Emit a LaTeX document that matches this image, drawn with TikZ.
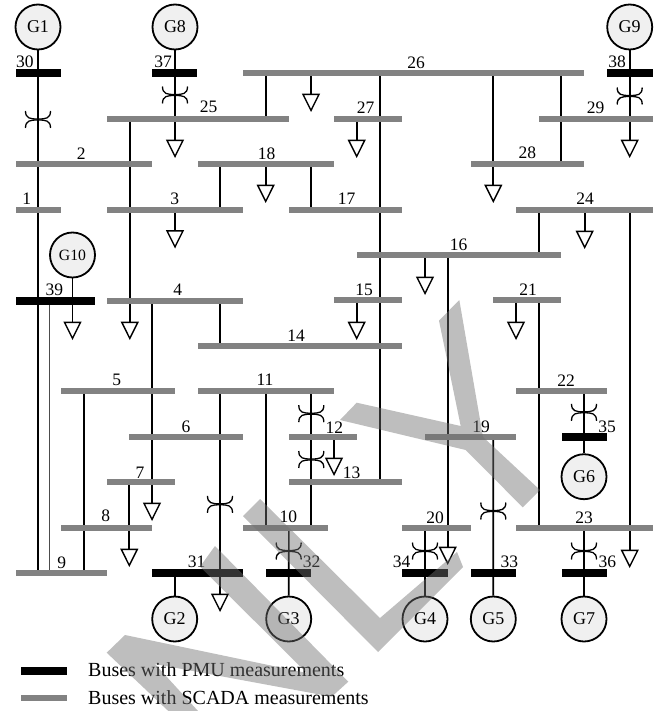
\documentclass[tikz,border=0pt]{standalone}
\usepackage{fontspec}
\setmainfont{Liberation Serif}
\usepackage{tikz}
\usetikzlibrary{
  positioning,
  calc,
  shapes.geometric,
  backgrounds,
}

\begin{document}
\begin{tikzpicture}[
  x=1pt, y=-1pt,
  pmu/.style={fill=black, minimum height=8pt, inner sep=0pt, outer sep=0pt},
  scada/.style={fill=gray!98, minimum height=6pt, inner sep=0pt, outer sep=0pt},
  gen/.style={circle, draw, line width=1.8pt, fill=black!6, minimum size=45pt, inner sep=0pt, font=\fontsize{18}{18}\selectfont},
  gensmall/.style={gen, font=\fontsize{15.7}{16}\selectfont},
  busno/.style={inner sep=0pt, font=\fontsize{17.5}{18}\selectfont},
  legendtext/.style={inner sep=0pt, anchor=west, font=\fontsize{20}{20}\selectfont},
  loadtri/.style={draw, line width=1.4pt, isosceles triangle, isosceles triangle apex angle=53,
    shape border rotate=-90, minimum height=16pt, inner sep=0pt, anchor=apex},
  feeder/.style={line width=1.7pt},
  thinfeeder/.style={line width=1.5pt},
  wmark/.style={fill=black!56, opacity=0.455, draw=none},
  xfmr/.pic={
    \draw[line width=1.3pt] (-12.5,-8.5) .. controls (-12.5,-1) and (-8,-0.5) .. (0,-0.5)
      .. controls (8,-0.5) and (12.5,-1) .. (12.5,-8.5);
    \draw[line width=1.3pt] (-12.5,8.5) .. controls (-12.5,1) and (-8,0.5) .. (0,0.5)
      .. controls (8,0.5) and (12.5,1) .. (12.5,8.5);
  },
]
  \useasboundingbox (0,0) rectangle (657,711);
  % Generators
  \node[gen] (g1) at (38,27) {G1};
  \node[gen] (g8) at (175,27) {G8};
  \node[gen] (g9) at (629.7,27) {G9};
  \node[gensmall] (g10) at (72.5,255) {G10};
  \node[gen] (g6) at (584,476.7) {G6};
  \node[gen] (g2) at (174.7,619) {G2};
  \node[gen] (g3) at (288.7,619) {G3};
  \node[gen] (g4) at (425,619) {G4};
  \node[gen] (g5) at (493.3,619) {G5};
  \node[gen] (g7) at (584,619) {G7};
  % PMU buses
  \node[pmu, minimum width=45pt] (b30) at (38.5,73) {};
  \node[pmu, minimum width=45pt] (b37) at (174.5,73) {};
  \node[pmu, minimum width=46pt] (b38) at (630,73) {};
  \node[pmu, minimum width=79pt] (b39) at (55.5,300.7) {};
  \node[pmu, minimum width=45pt] (b35) at (584.5,437) {};
  \node[pmu, minimum width=91pt] (b31) at (197.5,573.3) {};
  \node[pmu, minimum width=45pt] (b32) at (288.5,573.3) {};
  \node[pmu, minimum width=46pt] (b34) at (425,573.3) {};
  \node[pmu, minimum width=45pt] (b33) at (493.5,573.3) {};
  \node[pmu, minimum width=45pt] (b36) at (584.5,573.3) {};
  % SCADA buses
  \node[scada, minimum width=341pt] (b26) at (413.5,73) {};
  \node[scada, minimum width=182pt] (b25) at (198,118.7) {};
  \node[scada, minimum width=68pt] (b27) at (368,118.7) {};
  \node[scada, minimum width=114pt] (b29) at (596,118.7) {};
  \node[scada, minimum width=136pt] (b2) at (84,164) {};
  \node[scada, minimum width=136pt] (b18) at (266,164) {};
  \node[scada, minimum width=113pt] (b28) at (527.5,164.5) {};
  \node[scada, minimum width=45pt] (b1) at (38.5,209.7) {};
  \node[scada, minimum width=136pt] (b3) at (175,209.7) {};
  \node[scada, minimum width=113pt] (b17) at (345.5,209.7) {};
  \node[scada, minimum width=137pt] (b24) at (584.5,209.7) {};
  \node[scada, minimum width=204pt] (b16) at (459,255) {};
  \node[scada, minimum width=136pt] (b4) at (175,300.7) {};
  \node[scada, minimum width=68pt] (b15) at (368,299.5) {};
  \node[scada, minimum width=68pt] (b21) at (527,299.5) {};
  \node[scada, minimum width=204pt] (b14) at (300,346) {};
  \node[scada, minimum width=114pt] (b5) at (118,391.3) {};
  \node[scada, minimum width=136pt] (b11) at (266,391.3) {};
  \node[scada, minimum width=91pt] (b22) at (561.5,391.3) {};
  \node[scada, minimum width=114pt] (b6) at (186,437) {};
  \node[scada, minimum width=68pt] (b12) at (323,437) {};
  \node[scada, minimum width=91pt] (b19) at (470.5,437) {};
  \node[scada, minimum width=68pt] (b7) at (141,482.3) {};
  \node[scada, minimum width=113pt] (b13) at (345.5,482.3) {};
  \node[scada, minimum width=91pt] (b8) at (106.5,527.7) {};
  \node[scada, minimum width=85pt] (b10) at (285.5,527.7) {};
  \node[scada, minimum width=69pt] (b20) at (436.5,527.7) {};
  \node[scada, minimum width=137pt] (b23) at (584.5,527.7) {};
  \node[scada, minimum width=91pt] (b9) at (61.5,573.3) {};
  % Bus numbers
  \node[busno] (n30) at (25,62) {30};
  \node[busno] (n37) at (163,62) {37};
  \node[busno] (n38) at (617,62) {38};
  \node[busno] (n26) at (416,63) {26};
  \node[busno] (n25) at (208.7,107) {25};
  \node[busno] (n27) at (365.7,108) {27};
  \node[busno] (n29) at (595.7,108) {29};
  \node[busno] (n2) at (81.3,153.7) {2};
  \node[busno] (n18) at (266.7,154) {18};
  \node[busno] (n28) at (527.3,153) {28};
  \node[busno] (n1) at (26.7,199) {1};
  \node[busno] (n3) at (174.7,199) {3};
  \node[busno] (n17) at (346.7,198.5) {17};
  \node[busno] (n24) at (585,199) {24};
  \node[busno] (n16) at (458.7,245) {16};
  \node[busno] (n39) at (54.3,290) {39};
  \node[busno] (n4) at (177.7,290) {4};
  \node[busno] (n15) at (364,289.5) {15};
  \node[busno] (n21) at (528,290) {21};
  \node[busno] (n14) at (296,336) {14};
  \node[busno] (n5) at (116.7,380) {5};
  \node[busno] (n11) at (265,380) {11};
  \node[busno] (n22) at (566,381) {22};
  \node[busno] (n6) at (186,427) {6};
  \node[busno] (n12) at (334.3,428) {12};
  \node[busno] (n19) at (481,426.7) {19};
  \node[busno] (n35) at (607,426.7) {35};
  \node[busno] (n7) at (140,472.7) {7};
  \node[busno] (n13) at (351.7,472.7) {13};
  \node[busno] (n8) at (105.7,516) {8};
  \node[busno] (n10) at (288.3,517) {10};
  \node[busno] (n20) at (435,517.7) {20};
  \node[busno] (n23) at (584,517.7) {23};
  \node[busno] (n9) at (61.7,563) {9};
  \node[busno] (n31) at (196.7,561.7) {31};
  \node[busno] (n32) at (311.7,562) {32};
  \node[busno] (n34) at (401.7,562) {34};
  \node[busno] (n33) at (509.3,562) {33};
  \node[busno] (n36) at (607.3,562) {36};
  % Loads, placed by their tips
  \node[loadtri] (l26) at (311,112) {};
  \node[loadtri] (l25) at (175,158) {};
  \node[loadtri] (l27) at (356.7,158) {};
  \node[loadtri] (l29) at (629.7,158) {};
  \node[loadtri] (l18) at (265.7,203) {};
  \node[loadtri] (l28) at (493.3,203) {};
  \node[loadtri] (l3) at (175,248.5) {};
  \node[loadtri] (l24) at (584.7,249) {};
  \node[loadtri] (l16) at (425,295) {};
  \node[loadtri] (l39) at (72.5,340) {};
  \node[loadtri] (l4) at (129.8,340) {};
  \node[loadtri] (l15) at (356.7,340) {};
  \node[loadtri] (l21) at (516,340) {};
  \node[loadtri] (l12) at (334,476) {};
  \node[loadtri] (l7) at (152,521) {};
  \node[loadtri] (l8) at (129.3,567) {};
  \node[loadtri] (l20) at (447.7,565) {};
  \node[loadtri] (l23) at (629.7,568) {};
  \node[loadtri] (l31) at (220,612) {};
  % Legend
  \node[pmu, minimum width=46pt] (keypmu) at (44,670.7) {};
  \node[scada, minimum width=46pt] (keyscada) at (44,698.3) {};
  \node[legendtext] (txtpmu) at (88,670) {Buses with PMU measurements};
  \node[legendtext] (txtscada) at (88,698) {Buses with SCADA measurements};
  % Lines go under the buses
  \begin{pgfonlayer}{background}
    \draw[feeder] (g1) -- (38,0 |- b2);
    \draw[feeder] (38,0 |- b2) -- (38,0 |- b9);
    \draw[thinfeeder, black!70] (49.7,0 |- b39) -- (49.7,0 |- b9);
    \draw[feeder] (g8) -- (175,0 |- l25.lower side);
    \draw[feeder] (g9) -- (629.7,0 |- l29.lower side);
    \draw[feeder] (g10) -- (l39.lower side);
    \draw[feeder] (265.7,0 |- b26) -- (265.7,0 |- b25);
    \draw[feeder] (l26.lower side) -- (311,0 |- b26);
    \draw[feeder] (129.8,0 |- b25) -- (l4.lower side);
    \draw[feeder] (175,0 |- b3) -- (l3.lower side);
    \draw[feeder] (220,0 |- b18) -- (220,0 |- b3);
    \draw[feeder] (l18.lower side) -- (265.7,0 |- b18);
    \draw[feeder] (311,0 |- b18) -- (311,0 |- b17);
    \draw[feeder] (152,0 |- b4) -- (l7.lower side);
    \draw[feeder] (220,0 |- b4) -- (220,0 |- b14);
    \draw[feeder] (379.7,0 |- b26) -- (379.7,0 |- b13);
    \draw[feeder] (493.3,0 |- b26) -- (l28.lower side);
    \draw[feeder] (561.3,0 |- b26) -- (561.3,0 |- b28);
    \draw[feeder] (l27.lower side) -- (356.7,0 |- b27);
    \draw[feeder] (538.7,0 |- b24) -- (538.7,0 |- b16);
    \draw[feeder] (l24.lower side) -- (584.7,0 |- b24);
    \draw[feeder] (629.7,0 |- b24) -- (l23.lower side);
    \draw[feeder] (l16.lower side) -- (425,0 |- b16);
    \draw[feeder] (447.7,0 |- b16) -- (l20.lower side);
    \draw[feeder] (l15.lower side) -- (356.7,0 |- b15);
    \draw[feeder] (l21.lower side) -- (516,0 |- b21);
    \draw[feeder] (538.7,0 |- b21) -- (538.7,0 |- b23);
    \draw[feeder] (584,0 |- b22) -- (g6);
    \draw[feeder] (83.7,0 |- b5) -- (83.7,0 |- b9);
    \draw[feeder] (129.3,0 |- b7) -- (l8.lower side);
    \draw[thinfeeder] (220,0 |- b11) -- (l31.lower side);
    \draw[feeder] (265.7,0 |- b11) -- (265.7,0 |- b10);
    \draw[feeder] (311.3,0 |- b11) -- (311.3,0 |- b10);
    \draw[feeder] (l12.lower side) -- (334,0 |- b12);
    \draw[feeder] (288.9,0 |- b10) -- (g3);
    \draw[feeder] (174.7,0 |- b31) -- (g2);
    \draw[feeder] (425,0 |- b20) -- (g4);
    \draw[feeder] (493.2,0 |- b19) -- (g5);
    \draw[feeder] (584,0 |- b23) -- (g7);
  \end{pgfonlayer}
  % Transformers
  \pic at (38,119.5) {xfmr};
  \pic at (175,95) {xfmr};
  \pic at (629.7,96) {xfmr};
  \pic at (311.3,413.7) {xfmr};
  \pic at (311.3,459.5) {xfmr};
  \pic at (220,504.3) {xfmr};
  \pic at (288.7,551) {xfmr};
  \pic at (584,412.3) {xfmr};
  \pic at (493.3,511) {xfmr};
  \pic at (425,551) {xfmr};
  \pic at (584,551) {xfmr};
  % Grey strokes over everything
  \fill[wmark] (459.3,300) -- (483,437) -- (540,490) -- (522.7,507.3) -- (465.7,450)
    -- (340,420) -- (356.7,402.7) -- (460.7,426) -- (439,320.7) -- cycle;
  \fill[wmark] (260,499) -- (380,618) -- (457,552) -- (463,567) -- (378,652) -- (243,516) -- cycle;
  \fill[wmark] (215,546) -- (348.3,681.7) -- (331.7,696.7) -- (155,664) -- (198,711)
    -- (168.3,711) -- (106.7,652.7) -- (125,635) -- (306.7,673) -- (200,566.7) -- cycle;
\end{tikzpicture}
\end{document}
